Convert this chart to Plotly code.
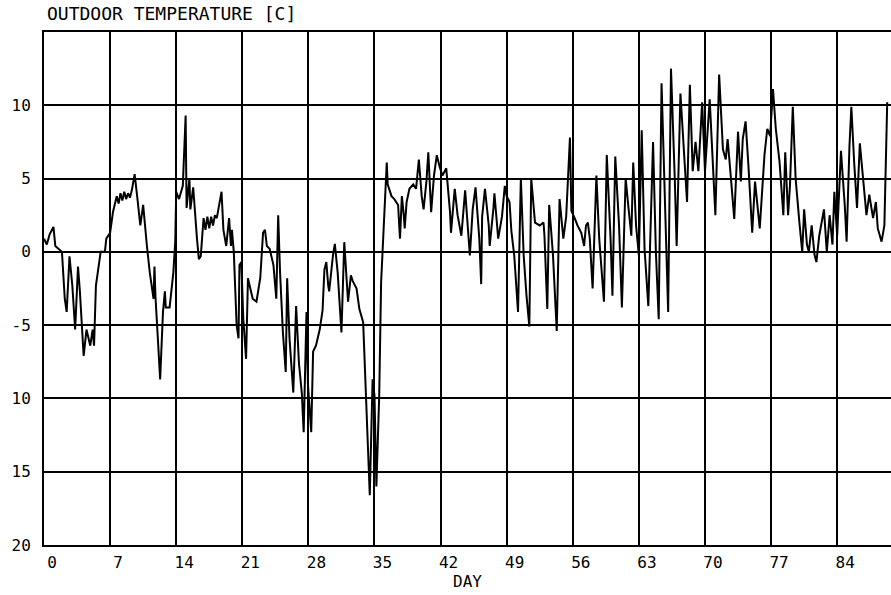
import plotly.graph_objects as go

# ---- data (day, outdoor temperature in C) ----
day = [
    0.0, 0.3, 0.6, 1.0, 1.2, 1.6, 1.9, 2.2, 2.4, 2.7, 3.0, 3.3, 3.6, 3.8, 4.2, 4.5, 4.9, 5.15, 5.3, 5.5,
    5.9, 6.0, 6.45, 6.6, 7.0, 7.3, 7.7, 7.9, 8.1, 8.3, 8.5, 8.7, 8.9, 9.1, 9.3, 9.6, 9.9, 10.2, 10.5, 10.7,
    10.9, 11.2, 11.6, 11.7, 11.8, 12.1, 12.3, 12.6, 12.8, 12.9, 13.3, 13.7, 13.9, 14.0, 14.3, 14.7, 15.0, 15.1, 15.4, 15.5,
    15.8, 16.2, 16.4, 16.6, 16.8, 16.9, 17.1, 17.3, 17.5, 17.7, 17.9, 18.1, 18.3, 18.8, 19.0, 19.3, 19.6, 19.8, 19.9, 20.1,
    20.4, 20.6, 20.7, 20.9, 21.1, 21.4, 21.6, 21.8, 22.1, 22.5, 22.9, 23.2, 23.4, 23.6, 23.9, 24.3, 24.6, 24.8, 25.0, 25.3,
    25.6, 25.75, 26.0, 26.4, 26.7, 27.0, 27.3, 27.5, 27.8, 27.95, 28.3, 28.5, 28.8, 29.2, 29.5, 29.7, 29.9, 30.1, 30.2, 30.6,
    30.8, 31.1, 31.5, 31.8, 32.0, 32.2, 32.5, 32.7, 33.1, 33.4, 33.8, 34.1, 34.5, 34.8, 35.0, 35.2, 35.5, 35.7, 36.1, 36.3,
    36.4, 36.8, 37.1, 37.5, 37.7, 37.9, 38.1, 38.2, 38.4, 38.7, 39.1, 39.4, 39.7, 40.0, 40.2, 40.5, 40.7, 41.0, 41.3, 41.6,
    41.9, 42.2, 42.6, 43.0, 43.1, 43.5, 43.8, 44.2, 44.6, 44.9, 45.1, 45.4, 45.7, 46.1, 46.3, 46.4, 46.7, 47.1, 47.2, 47.6,
    47.7, 48.1, 48.5, 48.8, 49.0, 49.3, 49.5, 49.8, 50.2, 50.5, 50.8, 51.1, 51.4, 51.6, 52.0, 52.5, 52.9, 53.0, 53.3, 53.5,
    53.9, 54.3, 54.6, 55.0, 55.3, 55.7, 55.85, 56.2, 56.5, 56.9, 57.2, 57.4, 57.6, 57.8, 58.1, 58.5, 58.8, 59.3, 59.6, 60.0,
    60.2, 60.5, 60.9, 61.2, 61.6, 61.9, 62.2, 62.4, 62.7, 63.0, 63.3, 63.6, 64.0, 64.5, 64.8, 65.1, 65.4, 66.1, 66.4, 66.8,
    67.0, 67.4, 67.6, 68.1, 68.4, 68.7, 69.0, 69.3, 69.7, 70.0, 70.5, 70.7, 71.1, 71.5, 71.9, 72.2, 72.4, 72.7, 73.1, 73.5,
    73.8, 74.0, 74.3, 74.6, 75.0, 75.3, 75.6, 75.8, 76.3, 76.6, 76.9, 77.2, 77.5, 77.9, 78.3, 78.5, 78.8, 79.0, 79.3, 79.6,
    80.0, 80.3, 80.5, 80.8, 81.0, 81.3, 81.6, 81.8, 82.1, 82.6, 82.9, 83.2, 83.5, 83.7, 84.0, 84.4, 84.8, 85.0, 85.3, 85.5,
    85.8, 86.1, 86.4, 86.8, 87.1, 87.4, 87.8, 88.1, 88.3, 88.7, 89.0, 89.3,
]
temperature = [
    0.9, 0.5, 1.2, 1.7, 0.4, 0.2, 0.0, -3.2, -4.1, -0.3, -2.3, -5.3, -1.0, -2.7, -7.1, -5.3, -6.4, -5.3, -6.4, -2.3,
    -0.2, 0.0, 0.0, 0.9, 1.3, 2.7, 3.8, 3.3, 4.0, 3.5, 4.1, 3.6, 4.0, 3.7, 4.2, 5.3, 3.6, 1.8, 3.2, 1.5,
    0.4, -1.4, -3.2, -1.0, -3.0, -6.4, -8.7, -4.1, -2.7, -3.8, -3.8, -1.4, 0.7, 4.1, 3.6, 4.5, 9.3, 3.0, 5.0, 2.9,
    4.4, 0.9, -0.5, -0.3, 1.3, 2.3, 1.5, 2.4, 1.6, 2.4, 1.8, 2.5, 2.3, 4.1, 1.5, 0.4, 2.3, 0.4, 1.5, 0.0,
    -5.0, -5.9, -0.9, -0.7, -4.5, -7.3, -1.8, -2.3, -3.2, -3.4, -1.8, 1.3, 1.5, 0.4, 0.2, -0.9, -3.2, 2.5, -1.4, -5.5,
    -8.2, -1.8, -5.9, -9.6, -3.7, -7.6, -9.6, -12.3, -4.1, -9.0, -12.3, -6.8, -6.4, -5.3, -4.0, -1.2, -0.7, -2.3, -2.7, -0.25,
    0.55, -1.4, -5.5, 0.66, -1.6, -3.4, -1.6, -2.0, -2.5, -3.9, -4.8, -9.8, -16.6, -8.7, -9.8, -16.0, -9.8, -2.1, 3.8, 6.1,
    4.6, 3.8, 3.6, 3.2, 0.9, 3.8, 2.5, 1.6, 3.4, 4.3, 4.6, 4.3, 6.3, 3.8, 2.9, 4.8, 6.8, 2.7, 5.2, 6.6,
    5.8, 5.2, 5.7, 2.7, 1.3, 4.3, 2.5, 1.1, 4.2, 1.8, -0.25, 2.9, 4.4, 0.9, -2.2, 2.4, 4.3, 1.8, 0.4, 3.0,
    4.0, 0.9, 2.4, 4.5, 3.8, 3.4, 1.4, -0.25, -4.1, 5.0, -0.25, -3.0, -5.1, 5.0, 2.0, 1.8, 2.0, 1.1, -3.9, 3.2,
    -0.2, -5.4, 3.6, 0.9, 2.4, 7.8, 2.8, 2.3, 1.8, 1.3, 0.4, 1.8, 2.0, 0.9, -2.5, 5.2, 0.9, -3.4, 6.6, 0.9,
    -3.0, 6.5, 1.8, -3.8, 5.0, 3.0, 1.1, 6.1, 1.8, -0.25, 8.3, 0.2, -3.7, 7.5, 0.0, -4.6, 11.5, -4.1, 12.5, 5.0,
    0.4, 10.8, 8.5, 3.4, 11.4, 5.5, 7.5, 5.5, 10.2, 5.5, 10.4, 8.0, 2.5, 12.1, 7.0, 6.3, 7.7, 5.4, 2.25, 8.2,
    4.8, 7.7, 8.9, 5.9, 1.3, 4.8, 3.0, 1.6, 6.6, 8.4, 7.9, 11.1, 8.4, 6.1, 2.5, 6.8, 2.5, 4.5, 9.9, 5.0,
    2.0, 0.0, 2.9, 0.5, 0.0, 1.8, -0.2, -0.7, 1.1, 2.9, 0.0, 2.5, 0.5, 4.1, 1.1, 6.9, 3.2, 0.7, 7.2, 9.9,
    6.1, 3.0, 7.4, 4.8, 2.5, 3.9, 2.3, 3.4, 1.6, 0.7, 1.8, 10.2,
]

x_tick_values = [0, 7, 14, 21, 28, 35, 42, 49, 56, 63, 70, 77, 84]
x_tick_labels = ["0", "7", "14", "21", "28", "35", "42", "49", "56", "63", "70", "77", "84"]
y_tick_values = [10, 5, 0, -5, -10, -15, -20]
y_tick_labels = ["10", "5", "0", "-5", "10", "15", "20"]

title_text = "OUTDOOR TEMPERATURE [C]"
x_title = "DAY"

FONT = "DejaVu Sans Mono"

fig = go.Figure()
fig.add_trace(go.Scatter(
    x=day, y=temperature, mode="lines",
    line=dict(color="black", width=2),
    showlegend=False, hoverinfo="skip",
))

fig.update_layout(
    width=891, height=595,
    margin=dict(l=44, r=0, t=32, b=50, pad=0),
    paper_bgcolor="white", plot_bgcolor="white",
    font=dict(family=FONT, color="black", size=16),
    title=dict(
        text=title_text, x=47 / 891, xanchor="left", xref="container",
        y=1 - 14 / 595, yanchor="middle", yref="container",
        font=dict(family=FONT, size=18, color="black"),
    ),
)

fig.update_xaxes(
    range=[0, 89.7],
    tickvals=x_tick_values, ticktext=x_tick_labels,
    ticks="", ticklabelshift=8, ticklabelstandoff=2,
    tickfont=dict(family=FONT, size=16, color="black"),
    showgrid=True, gridcolor="black", gridwidth=2,
    showline=True, linecolor="black", linewidth=2, mirror=True,
    zeroline=False,
    title=dict(text=x_title, standoff=4, font=dict(family=FONT, size=16, color="black")),
)

fig.update_yaxes(
    range=[-20, 15],
    tickvals=y_tick_values, ticktext=y_tick_labels,
    ticks="", ticklabelstandoff=8,
    tickfont=dict(family=FONT, size=16, color="black"),
    showgrid=True, gridcolor="black", gridwidth=2,
    showline=True, linecolor="black", linewidth=2, mirror=False,
    zeroline=False,
)

fig.write_html("out.html")
